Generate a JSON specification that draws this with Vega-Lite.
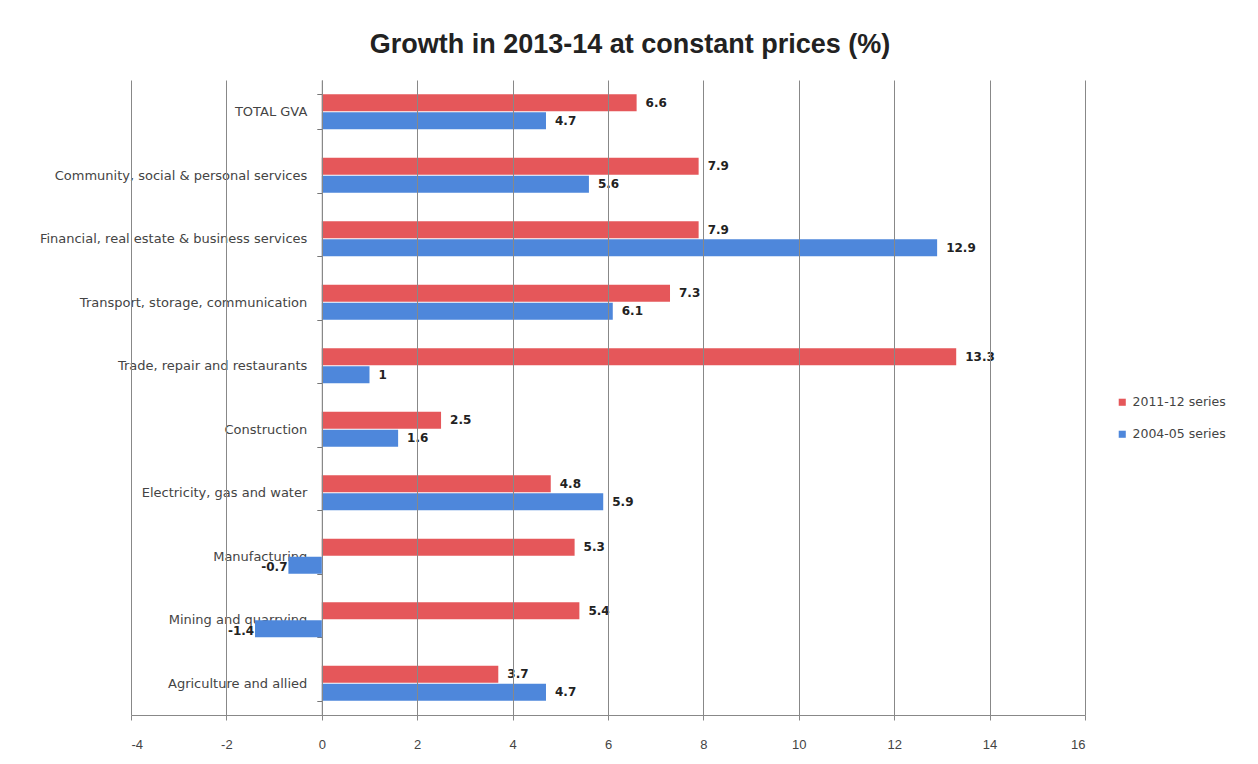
{
  "$schema": "https://vega.github.io/schema/vega-lite/v6.json",
  "width": 954,
  "height": 635,
  "autosize": {"type": "none"},
  "padding": {"left": 131, "top": 80, "right": 173, "bottom": 49},
  "background": "white",
  "title": {
    "text": "Growth in 2013-14 at constant prices (%)",
    "font": "Liberation Sans",
    "fontSize": 27,
    "fontWeight": "bold",
    "color": "#222222",
    "anchor": "middle",
    "frame": "group",
    "dx": 22,
    "offset": 15
  },
  "config": {
    "view": {"stroke": null},
    "font": "DejaVu Sans"
  },
  "data": {
    "values": [
      {"sector": "TOTAL GVA", "series": "2011-12 series", "value": 6.6},
      {"sector": "TOTAL GVA", "series": "2004-05 series", "value": 4.7},
      {"sector": "Community, social & personal services", "series": "2011-12 series", "value": 7.9},
      {"sector": "Community, social & personal services", "series": "2004-05 series", "value": 5.6},
      {"sector": "Financial, real estate & business services", "series": "2011-12 series", "value": 7.9},
      {"sector": "Financial, real estate & business services", "series": "2004-05 series", "value": 12.9},
      {"sector": "Transport, storage, communication", "series": "2011-12 series", "value": 7.3},
      {"sector": "Transport, storage, communication", "series": "2004-05 series", "value": 6.1},
      {"sector": "Trade, repair and restaurants", "series": "2011-12 series", "value": 13.3},
      {"sector": "Trade, repair and restaurants", "series": "2004-05 series", "value": 1},
      {"sector": "Construction", "series": "2011-12 series", "value": 2.5},
      {"sector": "Construction", "series": "2004-05 series", "value": 1.6},
      {"sector": "Electricity, gas and water", "series": "2011-12 series", "value": 4.8},
      {"sector": "Electricity, gas and water", "series": "2004-05 series", "value": 5.9},
      {"sector": "Manufacturing", "series": "2011-12 series", "value": 5.3},
      {"sector": "Manufacturing", "series": "2004-05 series", "value": -0.7},
      {"sector": "Mining and quarrying", "series": "2011-12 series", "value": 5.4},
      {"sector": "Mining and quarrying", "series": "2004-05 series", "value": -1.4},
      {"sector": "Agriculture and allied", "series": "2011-12 series", "value": 3.7},
      {"sector": "Agriculture and allied", "series": "2004-05 series", "value": 4.7}
    ]
  },
  "encoding": {
    "y": {
      "field": "sector",
      "type": "nominal",
      "sort": null,
      "scale": {"paddingInner": 0.45, "paddingOuter": 0.225},
      "axis": {
        "title": null,
        "offset": -190.8,
        "tickBand": "extent",
        "tickSize": 5,
        "tickColor": "#777777",
        "domainColor": "#777777",
        "labelFont": "DejaVu Sans",
        "labelFontSize": 13,
        "labelColor": "#444444",
        "labelPadding": 10,
        "labelLimit": 400,
        "zindex": 0
      }
    },
    "yOffset": {
      "field": "series",
      "type": "nominal",
      "sort": ["2011-12 series", "2004-05 series"],
      "scale": {"paddingInner": 0.06}
    },
    "x": {
      "field": "value",
      "type": "quantitative",
      "scale": {"domain": [-4, 16], "nice": false, "zero": false},
      "axis": {
        "title": null,
        "values": [-4, -2, 0, 2, 4, 6, 8, 10, 12, 14, 16],
        "labelExpr": "toString(datum.value)",
        "grid": true,
        "gridColor": "#888888",
        "gridWidth": 1,
        "domainColor": "#888888",
        "tickColor": "#888888",
        "tickSize": 5,
        "labelFont": "Liberation Sans",
        "labelFontSize": 13,
        "labelColor": "#444444",
        "labelPadding": 18,
        "zindex": 1
      }
    }
  },
  "layer": [
    {
      "mark": {"type": "bar", "cornerRadius": 0},
      "encoding": {
        "color": {
          "field": "series",
          "type": "nominal",
          "sort": ["2011-12 series", "2004-05 series"],
          "scale": {"domain": ["2011-12 series", "2004-05 series"], "range": ["#E5575A", "#4E87DB"]},
          "legend": {
            "title": null,
            "orient": "none",
            "legendX": 985,
            "legendY": 316,
            "symbolType": "square",
            "symbolSize": 50,
            "symbolStrokeWidth": 0,
            "rowPadding": 19,
            "labelFont": "DejaVu Sans",
            "labelFontSize": 12.5,
            "labelColor": "#444444",
            "labelOffset": 4
          }
        }
      }
    },
    {
      "transform": [{"filter": "datum.value >= 0"}],
      "mark": {"type": "text", "align": "left", "baseline": "middle", "dx": 9, "font": "DejaVu Sans", "fontSize": 12, "fontWeight": "bold", "color": "#222222"},
      "encoding": {"text": {"field": "value", "type": "nominal"}}
    },
    {
      "transform": [{"filter": "datum.value < 0"}],
      "mark": {"type": "text", "align": "center", "baseline": "middle", "dx": -14, "dy": 2, "font": "DejaVu Sans", "fontSize": 12, "fontWeight": "bold", "color": "#222222"},
      "encoding": {"text": {"field": "value", "type": "nominal"}}
    }
  ]
}
